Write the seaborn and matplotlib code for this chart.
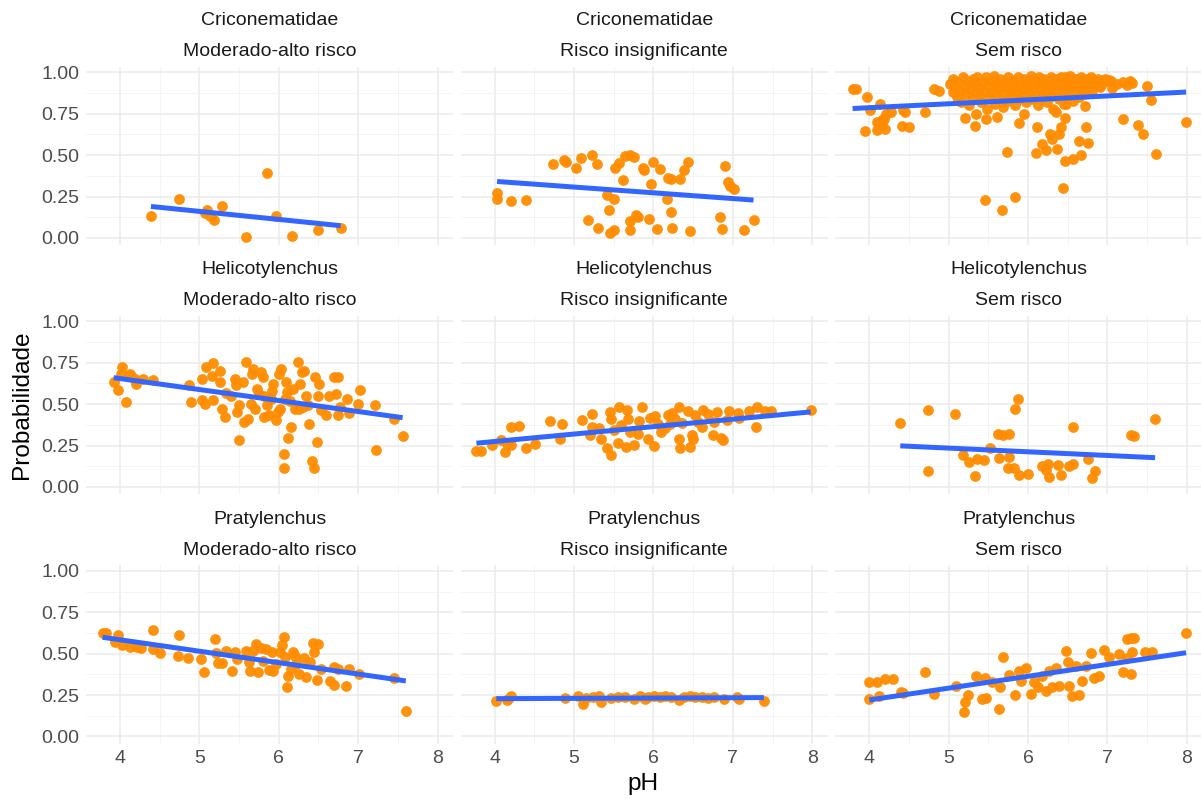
import matplotlib
matplotlib.use("Agg")
import matplotlib.pyplot as plt
import numpy as np
import pandas as pd
import seaborn as sns

genera = ["Criconematidae", "Helicotylenchus", "Pratylenchus"]
risks = ["Moderado-alto risco", "Risco insignificante", "Sem risco"]

# Criconematidae
cric_mod_ph = [4.39, 4.74, 5.10, 5.07, 5.13, 5.19, 5.29, 5.59, 5.85, 5.96, 6.17, 6.49, 6.78]
cric_mod_prob = [0.13, 0.234, 0.17, 0.15, 0.13, 0.106, 0.19, 0.006, 0.39, 0.134, 0.01, 0.046, 0.058]

cric_ins_ph = [4.03, 4.03, 4.20, 4.40, 4.73, 4.87, 4.90, 5.03, 5.09, 5.22, 5.29, 5.18, 5.30,
               5.42, 5.50, 5.44, 5.45, 5.50, 5.51, 5.57, 5.62, 5.64, 5.70, 5.75, 5.71, 5.71,
               5.78, 5.80, 5.87, 5.88, 5.94, 5.97, 6.00, 6.04, 6.08, 6.17, 6.18, 6.22, 6.22,
               6.23, 6.33, 6.39, 6.43, 6.46, 6.84, 6.86, 6.90, 6.94, 6.97, 7.01, 7.14, 7.26]
cric_ins_prob = [0.27, 0.234, 0.222, 0.228, 0.446, 0.47, 0.456, 0.42, 0.48, 0.50, 0.446, 0.106, 0.062,
                 0.26, 0.236, 0.17, 0.03, 0.05, 0.42, 0.454, 0.348, 0.494, 0.50, 0.49, 0.10, 0.05,
                 0.14, 0.126, 0.42, 0.41, 0.114, 0.326, 0.456, 0.052, 0.414, 0.234, 0.364, 0.356, 0.158,
                 0.06, 0.356, 0.41, 0.46, 0.04, 0.126, 0.054, 0.434, 0.34, 0.314, 0.296, 0.046, 0.108]

cric_sem_ph = [3.79, 3.83, 3.97, 4.01, 4.13, 3.94, 4.10, 4.10, 4.15, 4.20, 4.17, 4.21, 4.27,
               4.43, 4.45, 4.41, 4.50, 4.70, 4.81, 4.88, 5.21, 5.34, 5.33, 5.47, 5.61, 5.74,
               5.46, 5.67, 5.83, 5.88, 5.95, 6.11, 6.10, 6.17, 6.22, 6.28, 6.30, 6.39, 6.41,
               6.47, 6.37, 6.47, 6.56, 6.67, 6.64, 6.76, 6.73, 6.72, 6.44, 6.35, 6.48, 7.19,
               7.38, 7.45, 7.55, 7.61, 7.99, 7.24, 7.31, 7.50, 7.02, 7.06,
               4.12, 4.16, 4.19,
               5.02, 5.05, 5.06, 5.08, 5.10, 5.12, 5.14, 5.15, 5.18, 5.20, 5.22, 5.24, 5.25,
               5.27, 5.29, 5.30, 5.32, 5.34, 5.36, 5.38, 5.40, 5.41, 5.43, 5.45, 5.47, 5.48,
               5.50, 5.52, 5.53, 5.55, 5.57, 5.58, 5.60, 5.62, 5.63, 5.65, 5.67, 5.68, 5.70,
               5.72, 5.73, 5.75, 5.77, 5.78, 5.80, 5.82, 5.83, 5.85, 5.87, 5.88, 5.90, 5.92,
               5.94, 5.95, 5.97, 5.99, 6.00, 6.02, 6.04, 6.05, 6.07, 6.09, 6.10, 6.12, 6.14,
               6.15, 6.17, 6.19, 6.20, 6.22, 6.24, 6.25, 6.27, 6.29, 6.30, 6.32, 6.34, 6.35,
               6.37, 6.39, 6.40, 6.42, 6.44, 6.45, 6.47, 6.49, 6.50, 6.52, 6.54, 6.56, 6.58,
               6.60, 6.62, 6.64, 6.66, 6.68, 6.70, 6.72, 6.75, 6.78, 6.80, 6.83, 6.86, 6.90,
               6.93,
               6.31, 6.36, 6.41, 6.46, 6.51, 6.53, 6.57, 6.61, 6.63, 6.67, 6.69, 6.71, 6.74,
               6.77, 6.79, 6.82, 6.85, 6.88, 6.91, 6.95, 6.97, 7.05, 7.12, 7.20, 7.28]
cric_sem_prob = [0.90, 0.90, 0.854, 0.774, 0.806, 0.646, 0.654, 0.70, 0.68, 0.66, 0.72, 0.75, 0.76,
                 0.77, 0.76, 0.674, 0.67, 0.76, 0.90, 0.89, 0.726, 0.75, 0.678, 0.72, 0.73, 0.518,
                 0.23, 0.166, 0.25, 0.694, 0.75, 0.67, 0.51, 0.566, 0.534, 0.626, 0.60, 0.626, 0.67,
                 0.726, 0.54, 0.466, 0.474, 0.50, 0.586, 0.576, 0.67, 0.794, 0.30, 0.76, 0.81, 0.716,
                 0.68, 0.63, 0.836, 0.506, 0.70, 0.926, 0.934, 0.92, 0.954, 0.906,
                 0.70, 0.68, 0.72,
                 0.93, 0.88, 0.96, 0.91, 0.85, 0.94, 0.89, 0.82, 0.97, 0.92, 0.87, 0.95, 0.80,
                 0.90, 0.84, 0.96, 0.93, 0.88, 0.97, 0.91, 0.86, 0.82, 0.94, 0.89, 0.97, 0.78,
                 0.92, 0.85, 0.95, 0.88, 0.98, 0.81, 0.93, 0.90, 0.84, 0.96, 0.87, 0.79, 0.94,
                 0.91, 0.83, 0.97, 0.89, 0.86, 0.95, 0.92, 0.80, 0.88, 0.97, 0.84, 0.93, 0.90,
                 0.86, 0.96, 0.82, 0.91, 0.95, 0.88, 0.98, 0.84, 0.92, 0.95, 0.87, 0.80, 0.97,
                 0.90, 0.93, 0.85, 0.96, 0.89, 0.82, 0.94, 0.91, 0.97, 0.86, 0.78, 0.93, 0.88,
                 0.96, 0.84, 0.92, 0.95, 0.89, 0.81, 0.97, 0.90, 0.86, 0.94, 0.92, 0.83, 0.96,
                 0.88, 0.93, 0.85, 0.95, 0.90, 0.87, 0.94, 0.91, 0.95, 0.89, 0.93, 0.94, 0.91,
                 0.95,
                 0.96, 0.93, 0.97, 0.95, 0.92, 0.98, 0.94, 0.96, 0.93, 0.97, 0.95, 0.92, 0.96,
                 0.94, 0.97, 0.93, 0.95, 0.96, 0.92, 0.94, 0.96, 0.95, 0.93, 0.94, 0.95]

# Helicotylenchus
heli_mod_ph = [3.92, 3.97, 4.03, 4.08, 4.01, 4.13, 4.15, 4.20, 4.19, 4.29, 4.42, 4.87, 4.89,
               5.03, 5.03, 5.07, 5.08, 5.17, 5.17, 5.16, 5.26, 5.28, 5.32, 5.26, 5.33, 5.45,
               5.46, 5.48, 5.50, 5.50, 5.55, 5.56, 5.59, 5.61, 5.68, 5.66, 5.70, 5.72, 5.78,
               5.80, 5.82, 5.81, 5.85, 5.88, 5.90, 5.93, 5.96, 5.99, 6.00, 6.03, 6.06, 6.06,
               6.08, 6.09, 6.12, 6.15, 6.10, 6.18, 6.20, 6.24, 6.25, 6.27, 6.29, 6.32, 6.34,
               6.37, 6.38, 6.42, 6.44, 6.45, 6.48, 6.50, 6.51, 6.53, 6.60, 6.63, 6.69, 6.74,
               6.72, 6.74, 6.77, 6.86, 6.89, 7.00, 7.02, 7.21, 7.23, 7.45, 7.56,
               5.40, 5.65, 5.92, 6.14, 6.30, 5.75, 6.02]
heli_mod_prob = [0.633, 0.588, 0.727, 0.512, 0.683, 0.683, 0.663, 0.622, 0.653, 0.653, 0.643, 0.618, 0.512,
                 0.653, 0.528, 0.502, 0.723, 0.749, 0.528, 0.673, 0.703, 0.472, 0.422, 0.633, 0.568, 0.653,
                 0.614, 0.452, 0.281, 0.492, 0.633, 0.392, 0.757, 0.412, 0.713, 0.683, 0.472, 0.594, 0.693,
                 0.663, 0.422, 0.552, 0.492, 0.432, 0.532, 0.622, 0.402, 0.452, 0.683, 0.713, 0.201, 0.116,
                 0.532, 0.633, 0.295, 0.361, 0.574, 0.594, 0.472, 0.753, 0.472, 0.622, 0.693, 0.703, 0.552,
                 0.492, 0.382, 0.157, 0.114, 0.663, 0.271, 0.552, 0.622, 0.462, 0.432, 0.552, 0.663, 0.663,
                 0.562, 0.436, 0.482, 0.532, 0.448, 0.502, 0.584, 0.492, 0.221, 0.412, 0.305,
                 0.55, 0.50, 0.58, 0.52, 0.48, 0.56, 0.47]

heli_ins_ph = [3.77, 3.83, 3.97, 4.08, 4.13, 4.16, 4.20, 4.30, 4.21, 4.39, 4.51, 4.70, 4.82,
               4.85, 5.10, 5.20, 5.22, 5.23, 5.31, 5.34, 5.41, 5.46, 5.45, 5.47, 5.50, 5.55,
               5.57, 5.59, 5.66, 5.67, 5.68, 5.70, 5.76, 5.80, 5.82, 5.86, 5.93, 5.95, 6.01,
               6.02, 6.06, 6.09, 6.14, 6.18, 6.21, 6.23, 6.27, 6.32, 6.32, 6.34, 6.36, 6.43,
               6.46, 6.48, 6.50, 6.52, 6.56, 6.61, 6.62, 6.69, 6.75, 6.76, 6.80, 6.85, 6.88,
               6.93, 6.95, 7.06, 7.08, 7.20, 7.29, 7.31, 7.40, 7.48, 7.98]
heli_ins_prob = [0.215, 0.215, 0.251, 0.281, 0.211, 0.261, 0.361, 0.367, 0.251, 0.235, 0.261, 0.398, 0.287,
                 0.382, 0.404, 0.311, 0.361, 0.438, 0.355, 0.291, 0.235, 0.191, 0.452, 0.412, 0.345, 0.267,
                 0.482, 0.371, 0.241, 0.462, 0.412, 0.331, 0.255, 0.321, 0.398, 0.482, 0.291, 0.418, 0.247,
                 0.428, 0.378, 0.331, 0.355, 0.432, 0.378, 0.448, 0.412, 0.291, 0.482, 0.235, 0.388, 0.458,
                 0.241, 0.311, 0.287, 0.432, 0.392, 0.361, 0.462, 0.438, 0.315, 0.392, 0.452, 0.297, 0.281,
                 0.404, 0.458, 0.448, 0.418, 0.458, 0.361, 0.482, 0.458, 0.458, 0.462]

heli_sem_ph = [4.39, 4.74, 4.74, 5.08, 5.18, 5.26, 5.33, 5.36, 5.45, 5.52, 5.62, 5.64, 5.69,
               5.76, 5.76, 5.75, 5.82, 5.83, 5.87, 5.88, 6.00, 6.18, 6.22, 6.25, 6.26, 6.38,
               6.41, 6.51, 6.56, 6.56, 6.75, 6.80, 6.84, 7.29, 7.34, 7.60]
heli_sem_prob = [0.386, 0.462, 0.094, 0.442, 0.191, 0.151, 0.066, 0.171, 0.161, 0.235, 0.321, 0.175, 0.311,
                 0.321, 0.181, 0.114, 0.114, 0.472, 0.532, 0.074, 0.08, 0.127, 0.10, 0.141, 0.060, 0.135,
                 0.074, 0.127, 0.141, 0.361, 0.167, 0.054, 0.094, 0.315, 0.307, 0.408]

# Pratylenchus
praty_mod_ph = [3.78, 3.83, 3.97, 3.94, 4.03, 4.13, 4.21, 4.27, 4.41, 4.42, 4.50, 4.74, 4.73,
                4.86, 5.02, 5.06, 5.20, 5.21, 5.23, 5.29, 5.34, 5.41, 5.45, 5.47, 5.59, 5.62,
                5.64, 5.68, 5.71, 5.74, 5.78, 5.80, 5.84, 5.88, 5.91, 5.93, 5.97, 6.01, 6.04,
                6.06, 6.08, 6.10, 6.12, 6.15, 6.18, 6.20, 6.22, 6.25, 6.32, 6.34, 6.39, 6.43,
                6.44, 6.50, 6.48, 6.53, 6.69, 6.69, 6.75, 6.65, 6.85, 6.89, 7.01, 7.45, 7.60]
praty_mod_prob = [0.624, 0.624, 0.612, 0.572, 0.552, 0.538, 0.538, 0.532, 0.645, 0.528, 0.502, 0.612, 0.488,
                  0.474, 0.468, 0.392, 0.588, 0.502, 0.444, 0.444, 0.518, 0.398, 0.508, 0.468, 0.518, 0.448,
                  0.398, 0.518, 0.558, 0.388, 0.532, 0.458, 0.528, 0.404, 0.508, 0.398, 0.438, 0.508, 0.552,
                  0.598, 0.478, 0.297, 0.367, 0.408, 0.508, 0.488, 0.438, 0.378, 0.472, 0.357, 0.448, 0.564,
                  0.508, 0.558, 0.343, 0.408, 0.422, 0.311, 0.408, 0.337, 0.307, 0.408, 0.378, 0.351, 0.151]

praty_ins_ph = [4.02, 4.15, 4.20, 4.17, 4.88, 5.05, 5.11, 5.15, 5.24, 5.31, 5.34, 5.47, 5.55,
                5.64, 5.76, 5.83, 5.89, 5.93, 6.01, 6.08, 6.14, 6.22, 6.32, 6.39, 6.46, 6.52,
                6.61, 6.69, 6.76, 6.89, 7.05, 7.08, 7.39]
praty_ins_prob = [0.213, 0.217, 0.247, 0.227, 0.231, 0.243, 0.197, 0.231, 0.237, 0.247, 0.207, 0.231, 0.235,
                  0.237, 0.223, 0.243, 0.227, 0.237, 0.243, 0.237, 0.243, 0.237, 0.217, 0.237, 0.243, 0.237,
                  0.241, 0.231, 0.237, 0.227, 0.237, 0.227, 0.211]

praty_sem_ph = [4.00, 4.00, 4.10, 4.12, 4.20, 4.30, 4.40, 4.43, 4.70, 4.81, 5.09, 5.20, 5.19,
                5.24, 5.35, 5.42, 5.46, 5.47, 5.55, 5.63, 5.65, 5.69, 5.76, 5.84, 5.88, 5.91,
                5.98, 6.04, 6.07, 6.12, 6.18, 6.22, 6.26, 6.30, 6.35, 6.39, 6.48, 6.50, 6.51,
                6.55, 6.60, 6.64, 6.68, 6.73, 6.79, 6.83, 6.89, 6.96, 7.02, 7.14, 7.20, 7.24,
                7.29, 7.34, 7.25, 7.29, 7.31, 7.47, 7.56, 7.99]
praty_sem_prob = [0.327, 0.227, 0.331, 0.243, 0.347, 0.347, 0.267, 0.263, 0.392, 0.257, 0.307, 0.207, 0.147,
                  0.251, 0.363, 0.223, 0.351, 0.231, 0.327, 0.163, 0.297, 0.478, 0.371, 0.251, 0.398, 0.337,
                  0.412, 0.257, 0.327, 0.297, 0.367, 0.277, 0.398, 0.297, 0.412, 0.307, 0.518, 0.448, 0.307,
                  0.247, 0.428, 0.251, 0.337, 0.424, 0.502, 0.351, 0.363, 0.524, 0.478, 0.498, 0.392, 0.588,
                  0.592, 0.596, 0.472, 0.378, 0.508, 0.508, 0.508, 0.624]

panels = {
    ("Criconematidae", "Moderado-alto risco"): (cric_mod_ph, cric_mod_prob),
    ("Criconematidae", "Risco insignificante"): (cric_ins_ph, cric_ins_prob),
    ("Criconematidae", "Sem risco"): (cric_sem_ph, cric_sem_prob),
    ("Helicotylenchus", "Moderado-alto risco"): (heli_mod_ph, heli_mod_prob),
    ("Helicotylenchus", "Risco insignificante"): (heli_ins_ph, heli_ins_prob),
    ("Helicotylenchus", "Sem risco"): (heli_sem_ph, heli_sem_prob),
    ("Pratylenchus", "Moderado-alto risco"): (praty_mod_ph, praty_mod_prob),
    ("Pratylenchus", "Risco insignificante"): (praty_ins_ph, praty_ins_prob),
    ("Pratylenchus", "Sem risco"): (praty_sem_ph, praty_sem_prob),
}

frames = []
for (genus, risk), (ph, prob) in panels.items():
    frames.append(pd.DataFrame({"genus": genus, "risk": risk, "pH": ph, "prob": prob}))
df = pd.concat(frames, ignore_index=True)

sns.set_theme(style="white")
plt.rcParams["font.family"] = ["Liberation Sans", "DejaVu Sans"]

W, H = 1201, 799
fig = plt.figure(figsize=(W / 100, H / 100), dpi=100)

col_left = [86, 460.7, 835.3]
panel_w = 367.3
row_bottom = [245, 494, 743.5]
panel_h = 178.4

for i, genus in enumerate(genera):
    for j, risk in enumerate(risks):
        ax = fig.add_axes([col_left[j] / W, 1 - row_bottom[i] / H, panel_w / W, panel_h / H])
        sub = df[(df["genus"] == genus) & (df["risk"] == risk)]
        sns.regplot(
            data=sub, x="pH", y="prob", ax=ax, ci=None, color="#FF8C00",
            scatter_kws=dict(s=60, linewidths=0, alpha=0.95, zorder=3),
            line_kws=dict(color="#3366FF", lw=3.6, zorder=4, solid_capstyle="butt"),
        )
        ax.set_xlim(3.572, 8.198)
        ax.set_ylim(-0.043, 1.035)
        ax.set_xticks([4, 5, 6, 7, 8])
        ax.set_xticks([4.5, 5.5, 6.5, 7.5], minor=True)
        ax.set_yticks([0, 0.25, 0.5, 0.75, 1.0])
        ax.set_yticks([0.125, 0.375, 0.625, 0.875], minor=True)
        ax.set_axisbelow(True)
        ax.grid(which="major", color="#EBEBEB", lw=1.1)
        ax.grid(which="minor", color="#F2F2F2", lw=0.6)
        for s in ax.spines.values():
            s.set_visible(False)
        ax.set_facecolor("white")
        ax.set_xlabel("")
        ax.set_ylabel("")
        ax.tick_params(which="both", length=0, labelsize=14, labelcolor="#4D4D4D", pad=5)
        if j == 0:
            ax.set_yticklabels(["0.00", "0.25", "0.50", "0.75", "1.00"])
        else:
            ax.set_yticklabels([])
        if i < 2:
            ax.set_xticklabels([])
        # facet strip labels
        ax.annotate(genus, xy=(0.5, 1), xycoords="axes fraction", xytext=(0, 46),
                    textcoords="offset pixels", ha="center", va="center",
                    fontsize=14, color="#1A1A1A")
        ax.annotate(risk, xy=(0.5, 1), xycoords="axes fraction", xytext=(0, 15),
                    textcoords="offset pixels", ha="center", va="center",
                    fontsize=14, color="#1A1A1A")

fig.text(22 / W, 1 - 405 / H, "Probabilidade", rotation=90, ha="center", va="center",
         fontsize=17.6, color="black")
fig.text(643.5 / W, 1 - 784 / H, "pH", ha="center", va="center", fontsize=17.6, color="black")

fig.savefig("out.png", dpi=100, facecolor="white")
